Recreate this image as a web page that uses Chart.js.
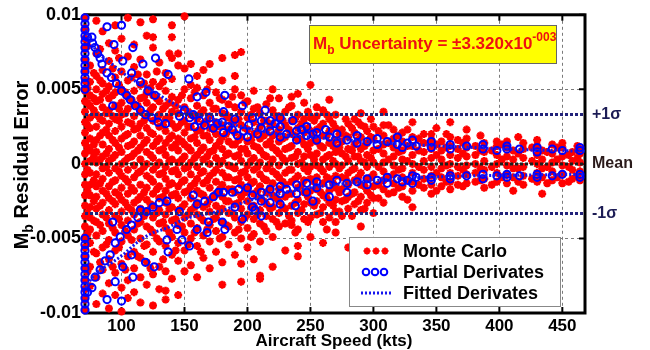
<!DOCTYPE html>
<html>
<head>
<meta charset="utf-8">
<script src="https://cdn.jsdelivr.net/npm/chart.js@4.4.0/dist/chart.umd.min.js"></script>
<style>
html, body { margin: 0; padding: 0; background: #fff; }
</style>
</head>
<body>
<canvas id="chart" width="650" height="350"></canvas>
<script>
// residual errors are in units of 1e-3
const xRange = [71, 468]
const xTicks = [100, 150, 200, 250, 300, 350, 400, 450]
const yTicks = [-10, -5, 0, 5, 10]
const yTickLabels = ["-0.01", "-0.005", "0", "0.005", "0.01"]

const mcSpeed = [71,75,80,85,90,95,100,105,110,115,120,125,130,135,140,145,150,155,160,165,170,175,180,185,190,195,200,205,210,215,220,225,230,235,240,245,250,255,260,265,270,275,280,285,290,295,300,308,316,323,331,340,346,354,361,367,374,381,388,398,406,411,419,430,434,442,450,458,464]
const mcErr = [
    [-9.8,-9.1,-8.4,-7.7,-7.0,-6.3,-5.6,-4.9,-4.2,-3.5,-2.8,-2.1,-1.4,-0.7,0,0.7,1.4,2.1,2.8,3.5,4.2,4.9,5.6,6.3,7.0,7.7,8.4,9.1,9.8],
    [-8.2,-6.9,-5.3,-4.4,-3.6,-2.9,-2.1,-1.4,-0.6,0.2,0.9,1.7,2.4,3.1,3.9,4.6,5.5,6.6],
    [-9.4,-7.6,-6.0,-4.8,-3.9,-3.0,-2.2,-1.5,-0.7,0.1,0.8,1.6,2.5,3.3,4.2,5.0,5.9,7.4,9.6],
    [-8.7,-7.1,-5.6,-4.5,-3.4,-2.6,-1.8,-1.0,-0.3,0.5,1.3,2.1,2.9,3.8,4.7,5.4,6.3,8.9],
    [-9.7,-8.0,-6.4,-5.1,-4.0,-3.1,-2.3,-1.5,-0.6,0.2,1.0,1.9,2.7,3.6,4.4,5.2,6.9,8.1],
    [-8.8,-7.3,-5.8,-4.6,-3.5,-2.7,-1.9,-1.1,-0.3,0.6,1.4,2.2,3.0,3.9,4.8,5.8,7.6,9.3],
    [-9.9,-8.3,-6.7,-5.2,-4.1,-3.2,-2.4,-1.6,-0.8,0,0.8,1.7,2.5,3.3,4.1,5.0,6.2,8.4],
    [-9.0,-7.8,-6.2,-4.8,-3.8,-2.9,-2.0,-1.2,-0.4,0.4,1.2,2.0,2.8,3.7,4.5,5.6,7.2,9.8],
    [-8.6,-7.0,-5.9,-4.4,-3.4,-2.6,-1.8,-0.9,-0.1,0.7,1.5,2.3,3.2,4.0,4.9,6.5,8.0],
    [-9.3,-7.6,-6.3,-5.0,-3.9,-3.0,-2.2,-1.4,-0.5,0.3,1.1,1.9,2.7,3.5,4.4,5.3,7.0,9.5],
    [-8.1,-6.6,-5.4,-4.2,-3.2,-2.4,-1.6,-0.8,0,0.8,1.6,2.4,3.2,4.1,4.8,6.0,8.6],
    [-9.5,-7.4,-5.9,-4.6,-3.6,-2.8,-2.0,-1.2,-0.4,0.4,1.2,2.0,2.9,3.8,4.6,5.5,7.8,8.5,9.7],
    [-8.4,-6.9,-5.2,-4.0,-3.1,-2.3,-1.5,-0.7,0.1,0.9,1.7,2.5,3.3,4.2,5.2,6.8],
    [-9.1,-8.5,-7.2,-5.5,-4.3,-3.4,-2.6,-1.8,-1.0,-0.2,0.6,1.4,2.2,3.0,3.9,4.9,6.1],
    [-7.7,-6.1,-4.9,-3.8,-2.9,-2.1,-1.3,-0.5,0.3,1.1,1.9,2.7,3.5,4.5,5.7,7.1,8.5,9.3],
    [-8.8,-6.5,-5.3,-4.1,-3.1,-2.3,-1.5,-0.7,0.1,0.9,1.7,2.5,3.4,4.3,6.6,7.4],
    [-7.2,-5.8,-4.6,-3.6,-2.7,-1.9,-1.1,-0.3,0.5,1.3,2.1,2.9,3.8,5.0,6.4,9.9],
    [-6.8,-5.0,-4.0,-3.1,-2.3,-1.5,-0.7,0.1,0.9,1.7,2.5,3.3,4.4,5.3,6.7],
    [-7.6,-5.5,-4.3,-3.4,-2.6,-1.8,-1.0,-0.2,0.6,1.4,2.2,3.0,3.9,5.1,5.9],
    [-6.3,-4.8,-3.8,-2.9,-2.1,-1.3,-0.5,0.3,1.1,1.9,2.7,3.6,4.6,6.3],
    [-7.0,-5.2,-4.1,-3.2,-2.4,-1.6,-0.8,0,0.8,1.6,2.4,3.2,4.1,5.5,6.7],
    [-5.9,-4.5,-3.6,-2.8,-2.0,-1.2,-0.4,0.4,1.2,2.0,2.8,3.7,4.8],
    [-8.1,-6.6,-4.9,-3.9,-3.0,-2.2,-1.4,-0.6,0.2,1.0,1.8,2.6,3.4,4.3,5.6,7.1],
    [-5.4,-4.2,-3.3,-2.5,-1.7,-0.9,-0.1,0.7,1.5,2.3,3.1,4.0],
    [-6.1,-4.6,-3.6,-2.7,-1.9,-1.1,-0.3,0.5,1.3,2.1,2.9,3.8,5.0,5.9,7.3],
    [-7.9,-6.7,-5.0,-3.9,-3.0,-2.2,-1.4,-0.6,0.2,1.0,1.8,2.6,3.5,4.6,7.5],
    [-5.6,-4.3,-3.4,-2.5,-1.7,-0.9,-0.1,0.7,1.5,2.3,3.1,4.2],
    [-6.4,-4.7,-3.7,-2.8,-2.0,-1.2,-0.4,0.4,1.2,2.0,2.8,3.7,4.9],
    [-7.7,-7.5,-5.2,-4.0,-3.1,-2.3,-1.5,-0.7,0.1,0.9,1.7,2.5,3.4],
    [-4.5,-3.5,-2.7,-1.9,-1.1,-0.3,0.5,1.3,2.1,2.9,4.0],
    [-6.9,-4.9,-3.7,-2.9,-2.1,-1.3,-0.5,0.3,1.1,1.9,2.7,3.6,5.0],
    [-4.2,-3.3,-2.5,-1.7,-0.9,-0.1,0.7,1.5,2.3,3.2,4.4],
    [-5.8,-4.0,-3.0,-2.2,-1.4,-0.6,0.2,1.0,1.8,2.6,3.5],
    [-4.1,-3.8,-2.8,-2.0,-1.2,-0.4,0.4,1.2,2.0,2.9,3.9,4.5],
    [-6.2,-5.5,-4.4,-3.3,-2.4,-1.6,-0.8,0,0.8,1.6,2.4,3.3,4.7],
    [-3.7,-2.7,-1.9,-1.1,-0.3,0.5,1.3,2.1,3.0,4.1],
    [-4.9,-3.6,-2.6,-1.8,-1.0,-0.2,0.6,1.4,2.2,3.1,5.3],
    [-3.4,-2.5,-1.7,-0.9,-0.1,0.7,1.5,2.3,3.2,3.8],
    [-5.3,-3.9,-2.9,-2.1,-1.3,-0.5,0.3,1.1,1.9,2.7,3.6],
    [-3.6,-2.6,-1.8,-1.0,-0.2,0.6,1.4,2.2,3.0,4.3],
    [-4.6,-3.9,-3.2,-2.4,-1.6,-0.8,0,0.8,1.6,2.4,3.3],
    [-3.5,-2.5,-1.7,-0.9,-0.1,0.7,1.5,2.3],
    [-5.6,-3.0,-2.2,-1.4,-0.6,0.2,1.0,1.8,2.7],
    [-2.7,-1.9,-1.1,-0.3,0.5,1.3,2.1,3.0],
    [-4.2,-3.1,-2.2,-1.4,-0.6,0.2,1.0,1.8,2.6,3.4],
    [-2.6,-1.8,-1.0,-0.2,0.6,1.4,2.2],
    [-3.3,-2.3,-1.5,-0.7,0.1,0.9,1.7,2.5],
    [-2.6,-1.7,-1.1,-0.5,0.1,0.7,1.3,1.9,2.6,3.5],
    [-1.9,-1.3,-0.7,-0.1,0.5,1.1,1.7,2.3],
    [-2.2,-1.5,-0.9,-0.3,0.3,0.9,1.5,2.1],
    [-2.9,-1.8,-1.2,-0.6,0,0.6,1.2,1.8,2.8],
    [-1.6,-1.0,-0.4,0.2,0.8,1.4,2.0],
    [-2.0,-1.4,-0.8,-0.2,0.4,1.0,1.6,2.0],
    [-1.5,-0.9,-0.3,0.3,0.9,1.5],
    [-1.7,-1.2,-0.6,0,0.6,1.2,1.8,2.8],
    [-1.4,-0.8,-0.2,0.4,1.0,1.6],
    [-1.3,-0.7,-0.1,0.5,1.1,1.7,2.3],
    [-1.2,-0.6,0,0.6,1.2],
    [-1.6,-1.0,-0.4,0.2,0.8,1.4],
    [-1.2,-0.6,0,0.6,1.2,1.5],
    [-1.3,-0.7,-0.1,0.5,1.1,1.5],
    [-1.8,-0.9,-0.3,0.3,0.9],
    [-1.4,-0.8,-0.2,0.4,1.0,1.4],
    [-1.2,-0.6,0,0.6,1.2,1.6],
    [-2.0,-0.9,-0.3,0.3,0.9],
    [-1.1,-0.5,0.1,0.7,1.3],
    [-1.3,-0.7,-0.1,0.5,1.1,1.4],
    [-1.0,-0.4,0.2,0.8],
    [-1.1,-0.5,0.1,0.7,1.0]
]

// second batch of Monte Carlo runs, in between the first columns
const mcSpeed2 = [73,78,83,88,93,98,103,108,113,118,123,128,133,138,143,148,153,158,163,168,173,178,183,188,193,198,203,208,213,218,223,228,233,238,243,248,253,258,263,268,273,278,283,288,293,298,304,312,320,327,336,350,358,371,385,394,402,415,426,438,446,455,462]
const mcErr2 = [
    [-7.2,-4.7,-3.3,-1.8,-0.4,1.1,2.6,4.1,5.1,7.9],
    [-5.9,-3.8,-2.5,-1.1,0.5,1.3,3.6,4.4,6.1],
    [-6.6,-4.1,-2.8,-1.3,0.3,1.9,3.0,4.3,5.6,7.7],
    [-5.4,-3.6,-2.0,-0.2,0.7,2.3,3.4,4.9],
    [-6.9,-4.3,-2.5,-1.2,0.4,1.6,3.2,4.6,6.4],
    [-5.6,-3.7,-2.1,-0.5,1.1,2.9,3.7,5.3,7.1],
    [-7.1,-4.5,-2.6,-1.0,0.2,1.9,3.4,4.8],
    [-5.1,-3.1,-1.6,0.5,1.3,2.7,4.3,5.8],
    [-6.2,-4.0,-2.4,-0.6,0.9,2.4,3.9,6.0],
    [-5.5,-3.5,-1.9,-0.2,1.4,2.9,4.5,5.4],
    [-7.0,-4.4,-2.7,-1.0,0.6,2.1,3.6,5.1],
    [-5.0,-3.3,-1.7,-0.1,1.5,3.0,4.4,6.2],
    [-6.4,-3.9,-2.2,-0.6,1.0,2.6,3.7,5.5],
    [-4.6,-3.0,-1.4,0.2,1.7,3.1,4.1,7.4],
    [-5.8,-3.7,-2.0,-0.4,1.3,2.4,3.9],
    [-4.2,-2.9,-1.2,0.3,1.5,2.8,4.6],
    [-5.4,-3.4,-1.8,-0.2,1.1,2.5,3.5],
    [-4.6,-2.9,-1.3,0.4,1.8,3.2,4.8],
    [-5.9,-3.6,-2.0,-0.6,0.9,2.3,3.4],
    [-4.4,-2.7,-1.1,0.5,1.9,2.9,5.0],
    [-3.7,-2.2,-0.6,0.9,2.3,3.7],
    [-5.0,-3.2,-1.7,0.0,1.5,2.5,4.4],
    [-4.1,-2.5,-0.9,0.6,2.0,3.3],
    [-3.3,-1.7,-0.2,1.3,2.7,4.5],
    [-4.4,-2.6,-1.0,0.6,1.6,3.0],
    [-3.6,-1.9,-0.5,1.0,2.4,4.1],
    [-4.9,-2.9,-1.3,0.2,1.6,3.3],
    [-3.4,-1.8,-0.2,1.1,2.2,3.8],
    [-4.2,-2.5,-1.0,0.6,1.9,2.9],
    [-3.0,-1.6,0.0,1.5,2.5,4.4],
    [-3.9,-2.3,-0.7,0.9,2.0,3.2],
    [-2.9,-1.2,0.4,1.7,2.9],
    [-3.5,-2.0,-0.4,1.1,2.3,3.8],
    [-4.6,-2.6,-1.0,0.5,1.9,3.0],
    [-3.1,-1.4,0.1,1.6,2.7],
    [-3.9,-2.2,-0.5,1.0,2.4,3.5],
    [-2.8,-1.2,0.3,1.8,2.9],
    [-3.3,-1.9,-0.3,1.2,2.5],
    [-4.4,-2.3,-0.9,0.5,1.9,3.3],
    [-2.8,-1.3,0.2,1.2,2.7],
    [-3.2,-1.9,-0.3,1.1,2.0],
    [-2.4,-1.0,0.5,1.9,3.0],
    [-3.5,-2.0,-0.4,0.9,2.4],
    [-2.5,-0.9,0.5,1.6,2.8],
    [-3.0,-1.5,0.1,1.2,2.5],
    [-2.1,-0.9,0.4,1.8,3.0],
    [-2.3,-1.4,-0.2,1.0,2.2],
    [-2.0,-0.9,0.3,1.4,2.6],
    [-1.6,-0.4,0.8,1.9],
    [-2.4,-1.1,0.2,1.2,2.3],
    [-1.4,-0.2,0.9,1.7],
    [-1.8,-0.6,0.6,1.3,2.4],
    [-1.2,-0.1,1.1,2.0],
    [-1.5,-0.4,0.7,1.4],
    [-1.1,-0.3,0.9,1.9],
    [-1.4,-0.2,0.9],
    [-0.9,0.3,1.3],
    [-1.2,-0.3,0.7,1.8],
    [-1.0,0.2,1.1],
    [-1.3,-0.2,0.8],
    [-0.9,0.3,1.1],
    [-1.2,-0.2,0.6],
    [-0.8,0.4,1.2]
]

const partialPts = [
    [71,5.0],[71,5.4],[71,5.8],[71,6.2],[71,6.6],[71,7.0],[71,7.4],[71,7.8],[71,8.2],[71,8.6],[71,9.0],[71,9.4],[71,9.8],
    [71,-5.0],[71,-5.4],[71,-5.8],[71,-6.2],[71,-6.6],[71,-7.0],[71,-7.4],[71,-7.8],[71,-8.2],[71,-8.6],[71,-9.0],[71,-9.4],[71,-9.8],
    [73,8.5],[76.5,8.5],[77,8.1],[79,7.8],[81,7.4],[83,7.1],[84.5,6.7],[88.5,9.2],[88.5,6.1],[92,5.8],[93,3.9],[94,8.0],
    [96,5.4],[100,9.3],[100,4.9],[101,6.9],[104,4.6],[107,4.3],[108,6.1],[109,7.8],[111,3.9],[115,3.6],[115,5.5],[117,6.7],
    [119,3.3],[121,4.9],[124,3.1],[126.5,4.6],[127,7.1],[129,2.8],[135,2.7],[137,6.0],[146,3.2],[150,3.6],[153.5,5.7],[154,3.1],
    [157,3.3],[158,2.5],[160,4.5],[162,2.9],[166,2.6],[167,4.8],[170,3.1],[173,2.4],[176,2.7],[180,2.8],[181,2.1],[181,3.5],
    [182,4.6],[185,2.5],[188,2.3],[190,3.0],[192,1.9],[196,3.9],[197,2.2],[200,1.8],[201,2.6],[204,3.1],[208,2.0],[211,2.4],
    [211,2.9],[214,3.6],[218,2.2],[218,2.9],[222,2.7],[226,2.5],[226,1.8],[226,3.1],[231,2.0],[236,2.9],[239,2.2],[239,1.6],
    [243,2.3],[247,1.9],[247,2.5],[252,2.0],[255,2.1],[255,1.6],[262,2.3],[265,1.8],[271,1.4],[271,2.0],[279,1.6],[287,1.9],
    [287,1.4],[295,1.5],[303,1.7],[303,1.3],[311,1.5],[319,1.3],[319,1.8],[323,1.1],[327,1.4],[331,1.6],[334,1.2],[346,1.5],
    [346,1.1],[361,1.3],[361,1.0],[374,1.2],[387,1.0],[387,1.3],[398,0.9],[406,1.0],[406,1.2],[416,1.0],[430,1.1],[430,0.8],
    [442,1.0],[450,0.9],[464,0.9],[464,1.1],
    [73,-8.6],[76.5,-8.3],[79,-7.6],[83,-7.1],[87,-6.5],[88.5,-9.1],[91,-6.1],[93,-3.9],[95,-5.3],[95,-7.9],[99,-4.9],
    [100,-9.2],[101,-6.9],[104,-4.4],[108,-4.1],[108,-6.1],[109,-7.6],[113,-3.6],[115,-3.1],[119,-6.6],[120,-3.2],[125,-2.9],
    [126,-6.9],[130,-2.6],[136,-2.5],[136,-5.1],[137,-5.9],[144,-4.4],[146,-3.2],[148,-5.1],[154,-5.5],[157,-2.1],[160,-2.7],
    [160,-4.4],[166,-2.5],[168,-4.6],[169,-3.9],[173,-2.2],[177,-1.9],[180,-3.9],[181,-1.9],[182,-4.4],[188,-1.9],[190,-2.9],
    [193,-1.7],[196,-3.7],[200,-1.6],[204,-2.1],[204,-2.9],[206,-3.1],[211,-1.9],[211,-2.5],[211,-3.5],[218,-1.7],[218,-2.6],
    [226,-2.0],[226,-1.5],[226,-2.7],[231,-1.7],[238,-2.8],[239,-1.4],[239,-2.0],[247,-1.3],[247,-1.9],[252,-2.5],[255,-1.2],
    [255,-1.6],[265,-1.4],[265,-2.2],[271,-1.1],[279,-1.3],[279,-1.9],[287,-1.2],[295,-1.0],[295,-1.4],[303,-1.1],[311,-1.3],
    [311,-0.9],[319,-1.0],[323,-1.2],[327,-1.1],[331,-0.8],[331,-1.3],[334,-0.9],[346,-0.9],[346,-1.1],[361,-0.8],[361,-1.0],
    [374,-0.8],[387,-0.7],[387,-1.0],[398,-0.8],[406,-0.7],[406,-0.9],[416,-0.8],[430,-0.7],[430,-0.9],[442,-0.8],[450,-0.7],
    [464,-0.7],[464,-0.9]
]

const fitSpeed = [71, 80, 91, 101, 112, 123, 136, 150, 165, 181, 200, 225, 250, 280, 310, 340, 380, 420, 468]
const fitUpper = [9.0, 7.6, 6.8, 6.1, 5.5, 5.0, 4.3, 3.7, 3.2, 2.8, 2.4, 2.0, 1.8, 1.6, 1.4, 1.25, 1.1, 0.95, 0.85]
const fitLower = [-8.3, -7.3, -6.7, -6.1, -5.3, -4.7, -4.3, -3.7, -3.4, -3.1, -2.5, -2.0, -1.6, -1.3, -1.05, -0.9, -0.8, -0.75, -0.7]

const sigmaLevels = [3.32, 0, -3.32]
const sigmaLabels = ["+1\u03c3", "Mean", "-1\u03c3"]
const sigmaColors = ["#1c1c55", "#2a1a1a", "#1c1c55"]
const legendLabels = ["Monte Carlo", "Partial Derivates", "Fitted Derivates"]

const fam = "'Liberation Sans', Arial, sans-serif"

let mcData = []
mcSpeed.forEach((s, i) => {
    for(let v of mcErr[i]){
        mcData.push({x: s, y: v})
    }
})
mcSpeed2.forEach((s, i) => {
    for(let v of mcErr2[i]){
        mcData.push({x: s, y: v})
    }
})
let pdData = partialPts.map(p => ({x: p[0], y: p[1]}))
let fitUp = fitSpeed.map((s, i) => ({x: s, y: fitUpper[i]}))
let fitLo = fitSpeed.map((s, i) => ({x: s, y: fitLower[i]}))

function flatLine(level, i){
    return {
        data: [{x: xRange[0], y: level}, {x: xRange[1], y: level}],
        showLine: true,
        pointRadius: 0,
        borderColor: i == 1 ? "#1e1e1e" : "#22227a",
        borderWidth: 3,
        borderDash: [3, 2],
        order: 1
    }
}

function fitLine(data){
    return {
        data: data,
        showLine: true,
        pointRadius: 0,
        borderColor: "#1515ee",
        borderWidth: 3,
        borderDash: [2, 2],
        cubicInterpolationMode: "monotone",
        order: 2
    }
}

function richText(ctx, x, y, parts){
    for(let p of parts){
        ctx.font = "bold " + p.size + "px " + fam
        ctx.fillText(p.t, x, y + p.dy)
        x += ctx.measureText(p.t).width
    }
}
function richWidth(ctx, parts){
    let w = 0
    for(let p of parts){
        ctx.font = "bold " + p.size + "px " + fam
        w += ctx.measureText(p.t).width
    }
    return w
}

const overlay = {
    id: "overlay",
    beforeDatasetsDraw(chart){
        const ctx = chart.ctx, a = chart.chartArea
        const xs = chart.scales.x, ys = chart.scales.y
        ctx.save()
        ctx.strokeStyle = "#000"
        ctx.lineWidth = 3
        ctx.strokeRect(a.left, a.top, a.right - a.left, a.bottom - a.top)
        ctx.lineWidth = 2
        ctx.beginPath()
        for(let v of xTicks){
            let px = xs.getPixelForValue(v)
            ctx.moveTo(px, a.bottom); ctx.lineTo(px, a.bottom - 6)
            ctx.moveTo(px, a.top); ctx.lineTo(px, a.top + 6)
        }
        for(let v of yTicks){
            let py = ys.getPixelForValue(v)
            ctx.moveTo(a.left, py); ctx.lineTo(a.left + 6, py)
            ctx.moveTo(a.right, py); ctx.lineTo(a.right - 6, py)
        }
        ctx.stroke()
        ctx.restore()
    },
    afterDraw(chart){
        const ctx = chart.ctx, a = chart.chartArea
        const ys = chart.scales.y
        ctx.save()

        // +1 sigma / mean / -1 sigma labels
        ctx.textBaseline = "middle"
        ctx.textAlign = "left"
        ctx.font = "bold 16px " + fam
        sigmaLevels.forEach((lvl, i) => {
            ctx.fillStyle = sigmaColors[i]
            ctx.fillText(sigmaLabels[i], a.right + 7, ys.getPixelForValue(lvl))
        })

        // axis titles
        ctx.fillStyle = "#000"
        ctx.textBaseline = "alphabetic"
        ctx.textAlign = "center"
        ctx.font = "bold 17px " + fam
        ctx.fillText("Aircraft Speed (kts)", 334, 346)

        ctx.textAlign = "left"
        let yt = [{t: "M", size: 20, dy: 0}, {t: "b", size: 14, dy: 5}, {t: " Residual Error", size: 20, dy: 0}]
        ctx.save()
        ctx.translate(28, 165)
        ctx.rotate(-Math.PI / 2)
        richText(ctx, -richWidth(ctx, yt) / 2, 0, yt)
        ctx.restore()

        // uncertainty box
        ctx.fillStyle = "#ffff00"
        ctx.fillRect(309, 25, 247, 38)
        ctx.strokeStyle = "#666"
        ctx.lineWidth = 1
        ctx.strokeRect(309.5, 25.5, 247, 38)
        ctx.fillStyle = "#ee1111"
        richText(ctx, 313, 49, [
            {t: "M", size: 17, dy: 0},
            {t: "b", size: 12, dy: 5},
            {t: " Uncertainty = \u00b13.320x10", size: 17, dy: 0},
            {t: "-003", size: 12, dy: -8}
        ])

        // legend
        ctx.fillStyle = "#fff"
        ctx.fillRect(349, 237, 211, 69)
        ctx.strokeStyle = "#888"
        ctx.strokeRect(349.5, 237.5, 211, 69)
        let rows = [251, 272, 293]
        ctx.strokeStyle = "#ff0000"
        ctx.fillStyle = "#ff0000"
        ctx.lineWidth = 2
        for(let cx of [367, 376, 385]){
            Chart.helpers.drawPoint(ctx, {pointStyle: "star", radius: 3.5, borderWidth: 2, rotation: 0}, cx, rows[0])
        }
        ctx.strokeStyle = "#0000ff"
        for(let cx of [366, 375, 384]){
            ctx.beginPath()
            ctx.arc(cx, rows[1], 3.3, 0, Math.PI * 2)
            ctx.stroke()
        }
        ctx.strokeStyle = "#1515ee"
        ctx.lineWidth = 3
        ctx.setLineDash([2, 2])
        ctx.beginPath()
        ctx.moveTo(361, rows[2]); ctx.lineTo(391, rows[2])
        ctx.stroke()
        ctx.setLineDash([])
        ctx.fillStyle = "#000"
        ctx.textBaseline = "middle"
        ctx.font = "bold 18px " + fam
        legendLabels.forEach((s, i) => ctx.fillText(s, 403, rows[i] + 1))

        ctx.restore()
    }
}

const tickFont = {family: fam, size: 17, weight: "bold"}

new Chart(document.getElementById("chart"), {
    type: "scatter",
    data: {
        datasets: [
            {
                label: legendLabels[0],
                data: mcData,
                pointStyle: "star",
                pointRadius: 4,
                pointBorderWidth: 2.4,
                pointBorderColor: "#ff0000",
                pointBackgroundColor: "#ff0000",
                clip: false,
                order: 5
            },
            {
                label: legendLabels[1],
                data: pdData,
                pointStyle: "circle",
                pointRadius: 3.6,
                pointBorderWidth: 2,
                pointBorderColor: "#0000ff",
                pointBackgroundColor: "rgba(0,0,0,0)",
                clip: false,
                order: 4
            },
            fitLine(fitUp),
            fitLine(fitLo),
            flatLine(sigmaLevels[0], 0),
            flatLine(sigmaLevels[1], 1),
            flatLine(sigmaLevels[2], 2)
        ]
    },
    options: {
        responsive: false,
        animation: false,
        events: [],
        layout: {padding: {left: 0, right: 65, top: 14, bottom: 0}},
        plugins: {legend: {display: false}, tooltip: {enabled: false}},
        scales: {
            x: {
                type: "linear",
                min: xRange[0],
                max: xRange[1],
                afterBuildTicks: s => { s.ticks = xTicks.map(v => ({value: v})) },
                afterFit: s => { s.height = 37 },
                grid: {color: "#7a7a7a", lineWidth: 1, drawTicks: false},
                border: {display: false, dash: [3, 3]},
                ticks: {padding: 3, color: "#000", font: tickFont, maxRotation: 0, autoSkip: false}
            },
            y: {
                type: "linear",
                min: -10,
                max: 10,
                afterBuildTicks: s => { s.ticks = yTicks.map(v => ({value: v})) },
                afterFit: s => { s.width = 85 },
                grid: {color: "#7a7a7a", lineWidth: 1, drawTicks: false},
                border: {display: false, dash: [3, 3]},
                ticks: {
                    padding: 4, color: "#000", font: {family: fam, size: 18, weight: "bold"},
                    callback: v => yTickLabels[yTicks.indexOf(v)]
                }
            }
        }
    },
    plugins: [overlay]
})
</script>
</body>
</html>
